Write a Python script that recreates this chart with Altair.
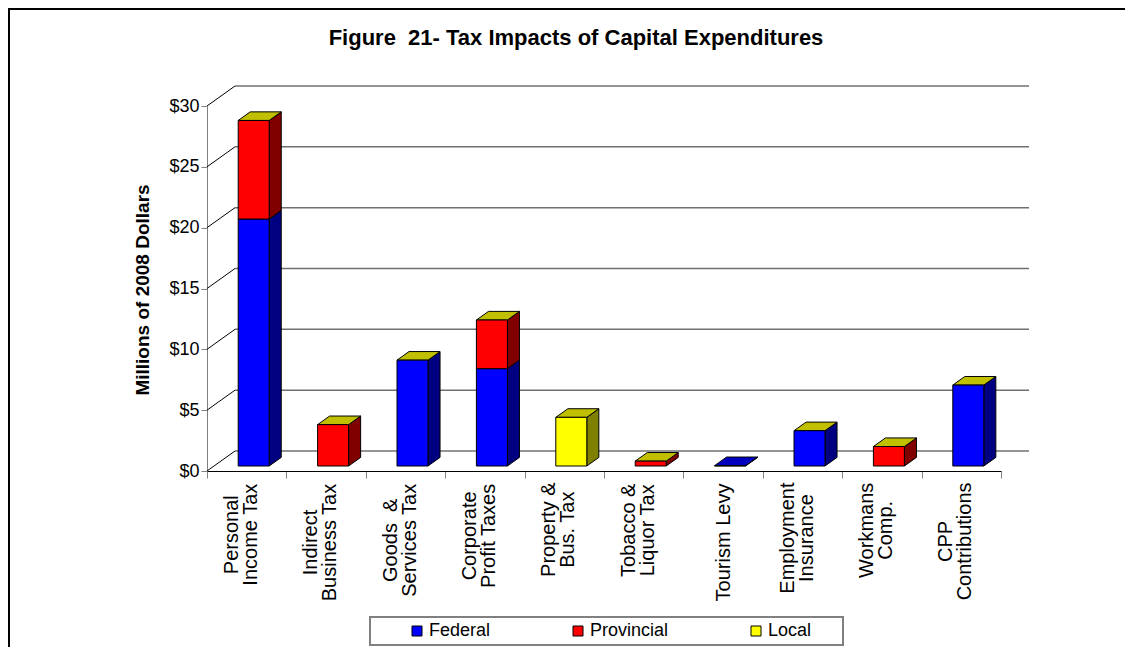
import json
import altair as alt
import pandas as pd

# ---------------- data ----------------
title_text = "Figure\u00a0\u00a021- Tax Impacts of Capital Expenditures"
y_title = "Millions of 2008 Dollars"
categories = ["Personal Income Tax", "Indirect Business Tax", "Goods & Services Tax",
              "Corporate Profit Taxes", "Property & Bus. Tax", "Tobacco & Liquor Tax",
              "Tourism Levy", "Employment Insurance", "Workmans Comp.", "CPP Contributions"]
label_lines = [["Personal", "Income Tax"], ["Indirect", "Business Tax"], ["Goods\u00a0\u00a0&", "Services Tax"],
               ["Corporate", "Profit Taxes"], ["Property &", "Bus. Tax"], ["Tobacco &", "Liquor Tax"],
               ["Tourism Levy"], ["Employment", "Insurance"], ["Workmans", "Comp."], ["CPP", "Contributions"]]
series = ["Federal", "Provincial", "Local"]
federal = [20.3, 0.0, 8.7, 8.0, 0.0, 0.0, 0.03, 2.9, 0.0, 6.65]
provincial = [8.1, 3.4, 0.0, 4.0, 0.0, 0.4, 0.0, 0.0, 1.6, 0.0]
local = [0.0, 0.0, 0.0, 0.0, 4.0, 0.0, None, 0.0, 0.0, 0.0]
y_ticks = [0, 5, 10, 15, 20, 25, 30]

# ---------------- style / geometry ----------------
FONT = "Liberation Sans"
PLOT_W, PLOT_H = 794, 365
NCAT = len(categories)
YMAX = 30
PX_X = PLOT_W / NCAT
PX_Y = PLOT_H / YMAX
WALL_DX = 28 / PX_X          # depth of the 3-D floor in x units
WALL_DY = 20 / PX_Y          # depth of the 3-D floor in y units
BAR_W = 31 / PX_X
D_FRONT, D_BACK = 0.25, 0.68  # bar depth range as fraction of floor depth
LINE_H = 19
XLAB_SIZE = 20

FRONT = {"Federal": "#0000FF", "Provincial": "#FF0000", "Local": "#FFFF00"}
SIDE = {"Federal": "#000080", "Provincial": "#800000", "Local": "#808000"}
TOP_CAP = "#C0C000"
TOP_BARE = {"Federal": "#0000C0", "Provincial": "#C00000", "Local": "#C0C000"}

# approximate Arial / Liberation Sans advance widths (per 1000 em) for label centring
_W = {" ": 278, "\u00a0": 278, "&": 667, ".": 278}
_W.update(dict(zip("ABCDEFGHIJKLMNOPQRSTUVWXYZ",
                   [667, 667, 722, 722, 667, 611, 778, 722, 278, 500, 667, 556, 833, 722, 778, 667, 778, 722,
                    667, 611, 722, 667, 944, 667, 667, 611])))
_W.update(dict(zip("abcdefghijklmnopqrstuvwxyz",
                   [556, 556, 500, 556, 556, 278, 556, 556, 222, 222, 500, 222, 833, 556, 556, 556, 556, 333,
                    500, 278, 556, 500, 722, 500, 500, 500])))


def text_len(s, size):
    return sum(_W.get(c, 556) for c in s) * size / 1000.0


fx, fy = D_FRONT * WALL_DX, D_FRONT * WALL_DY
bx, by = D_BACK * WALL_DX, D_BACK * WALL_DY

front_rows, side_rows, top_rows = [], [], []
values = {"Federal": federal, "Provincial": provincial, "Local": local}
for i, cat in enumerate(categories):
    xl = i + 0.5 - BAR_W / 2
    xr = i + 0.5 + BAR_W / 2
    base = 0.0
    last = None
    for s in series:
        v = values[s][i]
        if v is None or v <= 0:
            continue
        y0, y1 = base, base + v
        front_rows.append({"cat": cat, "series": s, "x": xl + fx, "x2": xr + fx,
                           "y": y0 + fy, "y2": y1 + fy})
        sid = f"{i}-{s}"
        side_rows.append({"id": sid, "fill": SIDE[s], "x": xr + fx, "y": y0 + fy, "y2": y1 + fy})
        side_rows.append({"id": sid, "fill": SIDE[s], "x": xr + bx, "y": y0 + by, "y2": y1 + by})
        base = y1
        last = s
    top_fill = TOP_CAP if local[i] is not None else TOP_BARE[last]
    top_rows.append({"id": i, "fill": top_fill, "y": base + fy, "x": xl + fx, "x2": xr + fx})
    top_rows.append({"id": i, "fill": top_fill, "y": base + by, "x": xl + bx, "x2": xr + bx})

grid_rows = [{"x": WALL_DX, "x2": NCAT + WALL_DX, "y": v + WALL_DY, "y2": v + WALL_DY} for v in y_ticks]
diag_rows = [{"x": 0, "x2": WALL_DX, "y": v, "y2": v + WALL_DY} for v in y_ticks]

xs = alt.Scale(domain=[0, NCAT], nice=False, zero=False)
ys = alt.Scale(domain=[0, YMAX], nice=False, zero=True)

LBL = json.dumps(label_lines)
pad_conditions = [
    {"test": f"datum.value == {i + 0.5}",
     "value": round(4 + max(text_len(l, XLAB_SIZE) for l in lines) / 2, 1)}
    for i, lines in enumerate(label_lines)
]
x_axis = alt.Axis(
    values=[k * 0.5 for k in range(2 * NCAT + 1)],
    labelExpr=f"datum.value % 1 == 0 ? '' : {LBL}[floor(datum.value)]",
    tickOpacity={"condition": {"test": "datum.value % 1 != 0", "value": 0}, "value": 1},
    labelOffset={"condition": {"test": f"datum.value % 1 != 0 && length({LBL}[floor(datum.value)]) > 1",
                               "value": -(LINE_H / 2) - 6}, "value": 0},
    labelPadding={"condition": pad_conditions, "value": 4},
    title=None, grid=False, labelAngle=270, labelAlign="center", labelBaseline="middle",
    tickSize=7, tickColor="#808080", tickWidth=1, domainColor="#000000", domainWidth=1,
    labelOverlap=False, labelBound=False, labelFlush=False, labelFontSize=XLAB_SIZE, labelLineHeight=LINE_H,
    labelFont=FONT, labelColor="#000000",
)
y_axis = alt.Axis(
    values=y_ticks, labelExpr="'$' + datum.value", title=None, grid=False,
    tickSize=6, tickColor="#808080", domainColor="#808080", domainWidth=1,
    labelFontSize=18, labelPadding=2, labelFont=FONT, labelColor="#000000",
)

one = pd.DataFrame({"a": [0]})

border = alt.Chart(one).mark_rect(fill="white", fillOpacity=0, stroke="#000000", strokeWidth=2).encode(
    x=alt.value(-198), x2=alt.value(1000), y=alt.value(-97), y2=alt.value(700))

legend_box = alt.Chart(one).mark_rect(fill="white", fillOpacity=0, stroke="#808080", strokeWidth=2).encode(
    x=alt.value(163), x2=alt.value(636), y=alt.value(511), y2=alt.value(539))

grid = alt.Chart(pd.DataFrame(grid_rows)).mark_rule(color="#707070", strokeWidth=1.5).encode(
    x=alt.X("x:Q", scale=xs, axis=x_axis), x2="x2:Q",
    y=alt.Y("y:Q", scale=ys, axis=y_axis), y2="y2:Q")

diag = alt.Chart(pd.DataFrame(diag_rows)).mark_rule(color="#000000", strokeWidth=1).encode(
    x=alt.X("x:Q", scale=xs, axis=x_axis), x2="x2:Q",
    y=alt.Y("y:Q", scale=ys, axis=y_axis), y2="y2:Q")

side = alt.Chart(pd.DataFrame(side_rows)).mark_area(
    orient="vertical", stroke="#000000", strokeWidth=1, opacity=1).encode(
    x=alt.X("x:Q", scale=xs, axis=x_axis),
    y=alt.Y("y:Q", scale=ys, axis=y_axis, stack=None), y2="y2:Q",
    fill=alt.Fill("fill:N", scale=None), detail="id:N")

top = alt.Chart(pd.DataFrame(top_rows)).mark_area(
    orient="horizontal", stroke="#000000", strokeWidth=1, opacity=1).encode(
    y=alt.Y("y:Q", scale=ys, axis=y_axis),
    x=alt.X("x:Q", scale=xs, axis=x_axis, stack=None), x2="x2:Q",
    fill=alt.Fill("fill:N", scale=None), detail="id:N")

front = alt.Chart(pd.DataFrame(front_rows)).mark_rect(stroke="#000000", strokeWidth=1).encode(
    x=alt.X("x:Q", scale=xs, axis=x_axis), x2="x2:Q",
    y=alt.Y("y:Q", scale=ys, axis=y_axis), y2="y2:Q",
    color=alt.Color("series:N",
                    scale=alt.Scale(domain=series, range=[FRONT[s] for s in series]),
                    legend=alt.Legend(orient="none", legendX=201, legendY=516, direction="horizontal",
                                      title=None, labelFontSize=18, labelFont=FONT, labelColor="#000000",
                                      symbolType="square", symbolSize=100, symbolStrokeColor="#000000",
                                      symbolStrokeWidth=1, labelOffset=3, columnPadding=78, padding=0)))

title_mark = alt.Chart(pd.DataFrame({"t": [title_text]})).mark_text(
    font=FONT, fontSize=22, fontWeight="bold", align="center", baseline="middle", color="#000000").encode(
    text="t:N", x=alt.value(369), y=alt.value(-68))

ytitle_mark = alt.Chart(pd.DataFrame({"t": [y_title]})).mark_text(
    font=FONT, fontSize=19, fontWeight="bold", align="center", baseline="middle", angle=270,
    color="#000000").encode(text="t:N", x=alt.value(-64), y=alt.value(184))

chart = alt.layer(border, legend_box, grid, diag, side, top, front, title_mark, ytitle_mark).properties(
    width=PLOT_W, height=PLOT_H,
    autosize=alt.AutoSizeParams(type="none"),
    padding={"left": 199, "top": 98, "right": 124, "bottom": 176},
    background="white",
).configure_view(strokeWidth=0)

chart.save("out.html", embed_options={"renderer": "svg", "actions": False})
